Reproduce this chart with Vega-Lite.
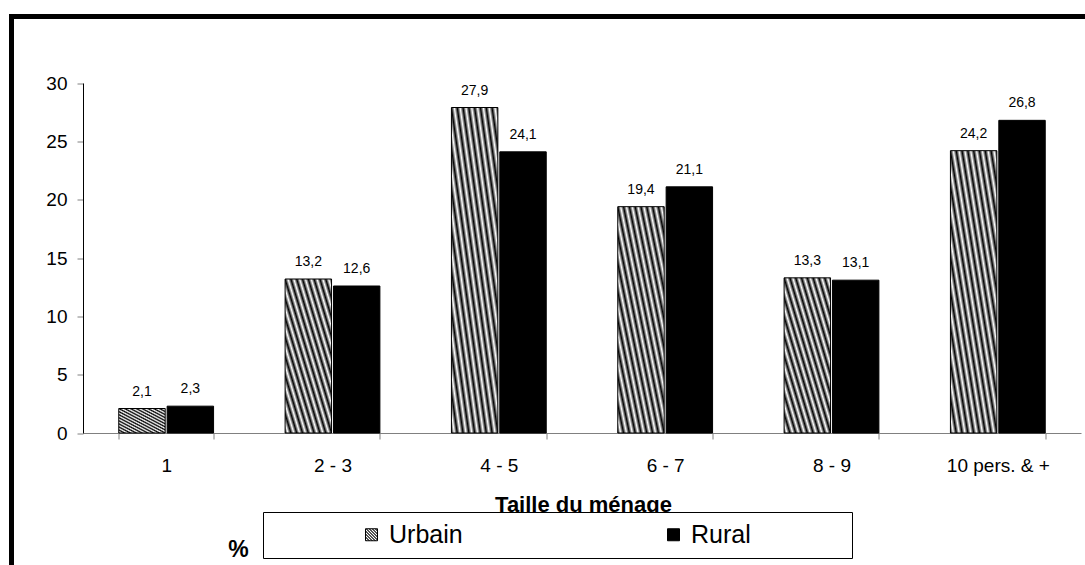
{
  "$schema": "https://vega.github.io/schema/vega-lite/v6.json",
  "width": 1073.5,
  "height": 548.5,
  "autosize": {"type": "none"},
  "padding": {"left": 11.5, "top": 16.5, "right": 0, "bottom": 0},
  "background": "#ffffff",
  "config": {
    "font": "Liberation Sans",
    "view": {"stroke": "#000000", "strokeWidth": 5, "strokeDash": [1073.5, 1622, 548.5, 0], "strokeCap": "square"},
    "locale": {"number": {"decimal": ",", "thousands": " ", "grouping": [3], "currency": ["", " €"]}}
  },
  "data": {
    "values": [
      {"taille": "1", "milieu": "Urbain", "pct": 2.1},
      {"taille": "1", "milieu": "Rural", "pct": 2.3},
      {"taille": "2 - 3", "milieu": "Urbain", "pct": 13.2},
      {"taille": "2 - 3", "milieu": "Rural", "pct": 12.6},
      {"taille": "4 - 5", "milieu": "Urbain", "pct": 27.9},
      {"taille": "4 - 5", "milieu": "Rural", "pct": 24.1},
      {"taille": "6 - 7", "milieu": "Urbain", "pct": 19.4},
      {"taille": "6 - 7", "milieu": "Rural", "pct": 21.1},
      {"taille": "8 - 9", "milieu": "Urbain", "pct": 13.3},
      {"taille": "8 - 9", "milieu": "Rural", "pct": 13.1},
      {"taille": "10 pers. & +", "milieu": "Urbain", "pct": 24.2},
      {"taille": "10 pers. & +", "milieu": "Rural", "pct": 26.8}
    ]
  },
  "encoding": {
    "x": {
      "field": "taille",
      "type": "nominal",
      "sort": ["1", "2 - 3", "4 - 5", "6 - 7", "8 - 9", "10 pers. & +"],
      "scale": {"range": [71.5, 1069.5], "paddingInner": 0.43, "paddingOuter": 0.215},
      "axis": {
        "title": "Taille du ménage",
        "titleFontSize": 22,
        "titleFontWeight": "bold",
        "titleColor": "#000000",
        "titleX": 571.5,
        "titleY": 78,
        "titleAlign": "center",
        "titleBaseline": "alphabetic",
        "offset": -132,
        "tickBand": "extent",
        "tickSize": 6,
        "tickColor": "#808080",
        "domainColor": "#808080",
        "labelFontSize": 19,
        "labelColor": "#000000",
        "labelPadding": 17,
        "labelAngle": 0,
        "grid": false
      }
    },
    "xOffset": {
      "field": "milieu",
      "type": "nominal",
      "sort": ["Urbain", "Rural"],
      "scale": {"paddingInner": 0.04}
    },
    "y": {
      "field": "pct",
      "type": "quantitative",
      "scale": {"domain": [0, 30], "range": [416.5, 66.5], "nice": false, "zero": true},
      "axis": {
        "title": "%",
        "titleAngle": 0,
        "titleX": 155,
        "titleY": 540,
        "titleAlign": "center",
        "titleBaseline": "alphabetic",
        "titleFontSize": 23,
        "titleFontWeight": "bold",
        "titleColor": "#000000",
        "offset": -71.5,
        "values": [0, 5, 10, 15, 20, 25, 30],
        "tickSize": 6,
        "tickColor": "#808080",
        "domainColor": "#000000",
        "labelPadding": 10,
        "labelFontSize": 19,
        "labelColor": "#000000",
        "grid": false
      }
    }
  },
  "layer": [
    {
      "mark": {"type": "bar", "stroke": "#000000", "strokeWidth": 1},
      "encoding": {
        "fill": {
          "field": "milieu",
          "type": "nominal",
          "scale": {
            "domain": ["Urbain", "Rural"],
            "range": [
              {"expr": "{gradient:'linear',x1:0,y1:1,x2:1,y2:0,stops:[{offset:0,color:'#000'},{offset:0.03125,color:'#fff'},{offset:0.0625,color:'#000'},{offset:0.09375,color:'#fff'},{offset:0.125,color:'#000'},{offset:0.15625,color:'#fff'},{offset:0.1875,color:'#000'},{offset:0.21875,color:'#fff'},{offset:0.25,color:'#000'},{offset:0.28125,color:'#fff'},{offset:0.3125,color:'#000'},{offset:0.34375,color:'#fff'},{offset:0.375,color:'#000'},{offset:0.40625,color:'#fff'},{offset:0.4375,color:'#000'},{offset:0.46875,color:'#fff'},{offset:0.5,color:'#000'},{offset:0.53125,color:'#fff'},{offset:0.5625,color:'#000'},{offset:0.59375,color:'#fff'},{offset:0.625,color:'#000'},{offset:0.65625,color:'#fff'},{offset:0.6875,color:'#000'},{offset:0.71875,color:'#fff'},{offset:0.75,color:'#000'},{offset:0.78125,color:'#fff'},{offset:0.8125,color:'#000'},{offset:0.84375,color:'#fff'},{offset:0.875,color:'#000'},{offset:0.90625,color:'#fff'},{offset:0.9375,color:'#000'},{offset:0.96875,color:'#fff'},{offset:1,color:'#000'}]}"},
              "#000000"
            ]
          },
          "legend": {
            "orient": "none",
            "legendX": 251.5,
            "legendY": 495.5,
            "direction": "horizontal",
            "title": ".",
            "titleOrient": "right",
            "titleFontSize": 8,
            "titleColor": "#ffffff",
            "titlePadding": 88,
            "strokeColor": "#000000",
            "fillColor": "#ffffff",
            "padding": 10,
            "symbolType": "square",
            "symbolSize": 144,
            "symbolStrokeColor": "#000000",
            "symbolStrokeWidth": 1,
            "symbolOffset": 86,
            "labelOffset": 5,
            "columnPadding": 112,
            "labelFontSize": 25,
            "labelColor": "#000000",
            "labelLimit": 400
          }
        }
      }
    },
    {
      "mark": {"type": "text", "baseline": "alphabetic", "dy": -13, "fontSize": 14, "fill": "#000000"},
      "encoding": {
        "text": {"field": "pct", "type": "quantitative", "format": ".1f"}
      }
    }
  ]
}
